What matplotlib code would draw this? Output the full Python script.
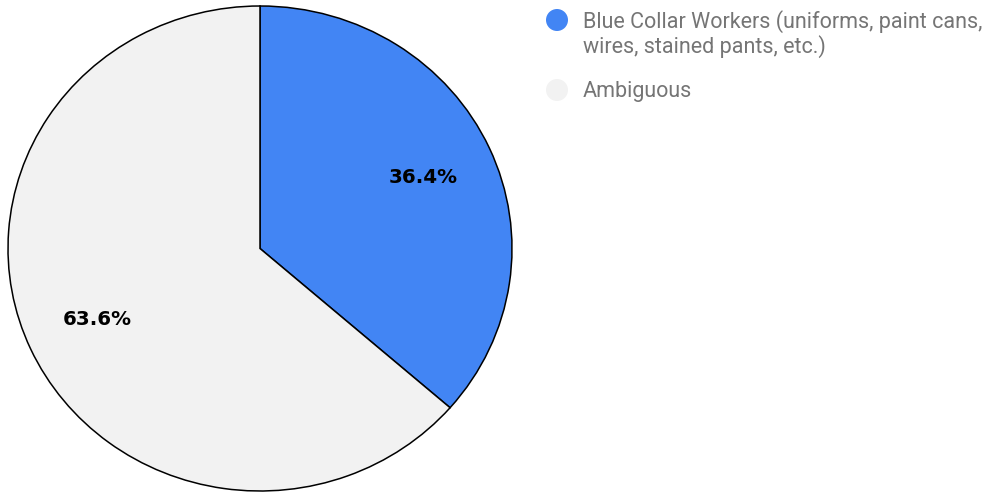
import matplotlib
matplotlib.use("Agg")
import matplotlib.pyplot as plt
from matplotlib.patches import Ellipse

labels = ["Blue Collar Workers (uniforms, paint cans,\nwires, stained pants, etc.)", "Ambiguous"]
values = [36.4, 63.6]
colors = ["#4285F4", "#F2F2F2"]

W, H = 995, 492
fig = plt.figure(figsize=(W / 100, H / 100), dpi=100)
plt.rcParams['font.family'] = ['Roboto', 'DejaVu Sans']

# pie axes in pixel coords: x 8..512, y 6..491 (from top)
ax = fig.add_axes([8 / W, 1 - 491 / H, 504 / W, 485 / H])
wedges, texts, autotexts = ax.pie(
    values, colors=colors, startangle=90, counterclock=False,
    autopct='%1.1f%%', pctdistance=0.71,
    wedgeprops=dict(edgecolor='black', linewidth=1.1),
    textprops=dict(fontsize=14.3, fontweight='bold', color='black',
                   family='DejaVu Sans'),
    radius=1.0,
)
for w in wedges:
    w.set_clip_on(False)
ax.set_aspect('auto')
ax.set_xlim(-1, 1)
ax.set_ylim(-1, 1)
ax.axis('off')

# legend
circle_y = [20, 90]
baselines = [[28, 53], [97]]
for i, lab in enumerate(labels):
    fig.add_artist(Ellipse((557 / W, 1 - circle_y[i] / H), 22 / W, 22 / H,
                           transform=fig.transFigure, facecolor=colors[i],
                           edgecolor='none'))
    for line, by in zip(lab.split("\n"), baselines[i]):
        fig.text(583 / W, 1 - by / H, line, ha='left', va='baseline',
                 fontsize=15.5, color='#757575')

fig.savefig("out.png", dpi=100)
